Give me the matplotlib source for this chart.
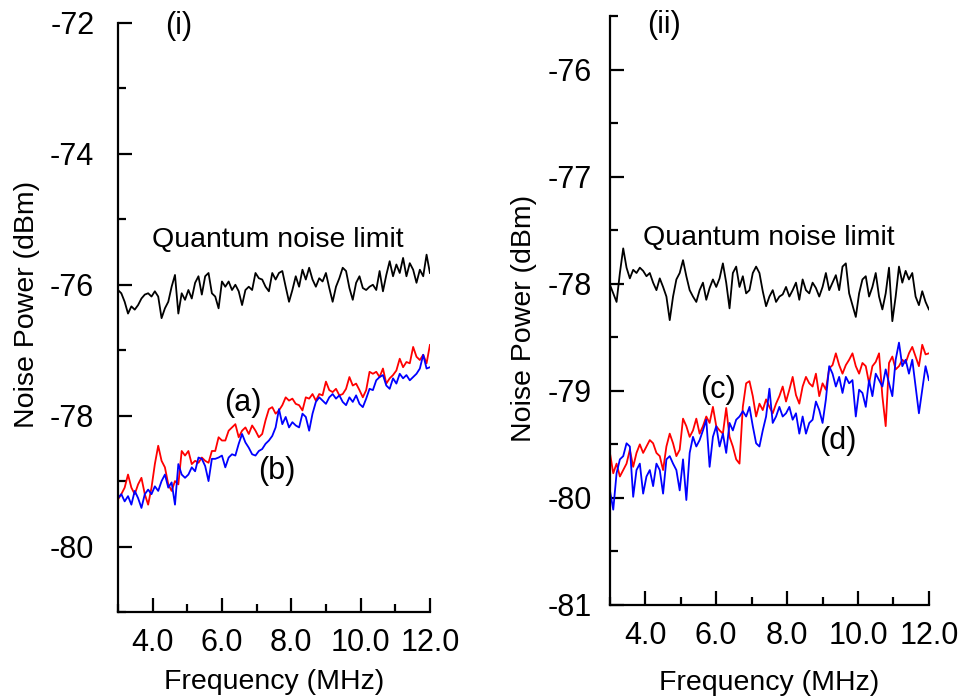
import numpy as np
import matplotlib
matplotlib.use("Agg")
import matplotlib.pyplot as plt
from matplotlib.ticker import MultipleLocator, FormatStrFormatter

plt.rcParams["font.family"] = ["Liberation Sans", "DejaVu Sans"]

# ---- panel (i): noise power traces, 3-12 MHz sweep ----
qnl_i = [-76.08, -76.13, -76.26, -76.44, -76.33, -76.38, -76.31, -76.21, -76.15, -76.13,
         -76.18, -76.10, -76.18, -76.51, -76.36, -76.26, -76.03, -75.85, -76.44, -76.13,
         -76.23, -76.08, -76.21, -75.97, -75.87, -76.15, -75.87, -75.82, -76.13, -76.18,
         -76.36, -75.95, -76.03, -75.95, -76.08, -76.00, -76.10, -76.31, -76.08, -76.03,
         -76.08, -75.82, -75.90, -75.92, -76.03, -76.10, -75.82, -75.92, -75.82, -75.79,
         -76.03, -76.26, -76.08, -75.87, -76.03, -75.77, -75.92, -75.74, -75.92, -76.03,
         -75.90, -75.95, -75.82, -76.05, -76.26, -76.03, -75.90, -75.74, -75.79, -76.05,
         -76.23, -75.97, -75.87, -76.05, -76.08, -76.03, -76.00, -76.08, -75.79, -76.10,
         -75.85, -75.64, -75.87, -75.69, -75.82, -75.59, -75.87, -75.67, -75.77, -75.97,
         -75.77, -75.87, -75.54, -75.82]

trace_a = [-79.28, -79.20, -79.10, -78.90, -79.10, -79.20, -79.05, -78.95, -79.20, -79.36,
           -79.10, -78.74, -78.46, -78.69, -78.79, -79.05, -79.15, -79.00, -79.05, -78.54,
           -78.61, -78.54, -78.74, -78.69, -78.72, -78.64, -78.69, -78.72, -78.54, -78.54,
           -78.33, -78.38, -78.38, -78.23, -78.18, -78.13, -78.33, -78.23, -78.18, -78.28,
           -78.15, -78.23, -78.33, -78.28, -78.07, -77.90, -77.87, -77.97, -77.92, -77.84,
           -77.72, -77.77, -77.74, -77.82, -77.84, -77.92, -77.72, -77.74, -77.67, -77.77,
           -77.67, -77.69, -77.48, -77.61, -77.64, -77.59, -77.69, -77.67, -77.59, -77.41,
           -77.54, -77.51, -77.61, -77.72, -77.61, -77.33, -77.36, -77.33, -77.41, -77.28,
           -77.51, -77.43, -77.38, -77.31, -77.13, -77.26, -77.18, -77.20, -76.95, -77.10,
           -77.15, -77.07, -77.20, -76.92]

trace_b = [-79.26, -79.20, -79.31, -79.23, -79.36, -79.15, -79.26, -79.41, -79.20, -79.13,
           -79.20, -79.08, -79.15, -79.00, -78.90, -79.10, -79.02, -79.36, -78.74, -78.90,
           -78.95, -78.90, -78.79, -78.85, -78.64, -78.66, -78.77, -79.00, -78.66, -78.66,
           -78.64, -78.61, -78.79, -78.64, -78.59, -78.61, -78.43, -78.28, -78.41, -78.49,
           -78.59, -78.61, -78.54, -78.51, -78.43, -78.38, -78.31, -78.18, -77.90, -78.13,
           -78.02, -78.18, -78.10, -78.15, -78.18, -77.97, -78.02, -78.23, -77.97, -77.79,
           -77.72, -77.77, -77.82, -77.72, -77.67, -77.74, -77.69, -77.79, -77.84, -77.72,
           -77.79, -77.69, -77.82, -77.87, -77.74, -77.59, -77.61, -77.46, -77.41, -77.38,
           -77.54, -77.59, -77.43, -77.51, -77.36, -77.43, -77.38, -77.46, -77.41, -77.36,
           -77.28, -77.07, -77.28, -77.26]

# ---- panel (ii) ----
qnl_ii = [-78.01, -78.09, -78.17, -77.90, -77.67, -77.85, -77.95, -77.87, -77.90, -77.85,
          -77.88, -77.93, -77.90, -77.99, -78.06, -77.95, -78.03, -78.12, -78.34, -78.12,
          -77.96, -77.90, -77.78, -77.93, -78.06, -78.12, -78.17, -78.06, -77.99, -78.15,
          -78.04, -77.96, -78.03, -77.95, -77.81, -77.99, -78.23, -77.90, -77.84, -78.03,
          -77.93, -78.09, -78.06, -77.90, -77.84, -77.90, -78.07, -78.21, -78.12, -78.06,
          -78.17, -78.12, -78.10, -78.03, -78.12, -78.06, -77.99, -78.15, -77.96, -78.06,
          -78.09, -77.99, -78.04, -78.12, -78.03, -77.90, -78.06, -77.99, -77.92, -78.06,
          -77.84, -77.81, -78.09, -78.20, -78.31, -78.09, -77.96, -77.93, -78.12, -78.03,
          -77.90, -78.12, -78.24, -78.09, -77.85, -78.35, -78.12, -77.84, -77.99, -77.88,
          -77.96, -77.90, -78.12, -78.20, -78.07, -78.17, -78.24]

trace_c = [-79.58, -79.77, -79.68, -79.80, -79.74, -79.68, -79.55, -79.71, -79.58, -79.50,
           -79.58, -79.52, -79.46, -79.49, -79.58, -79.61, -79.74, -79.52, -79.40, -79.49,
           -79.61, -79.55, -79.26, -79.33, -79.43, -79.37, -79.26, -79.40, -79.33, -79.24,
           -79.30, -79.15, -79.33, -79.37, -79.40, -79.16, -79.43, -79.52, -79.64, -79.68,
           -79.15, -78.93, -78.91, -79.05, -79.24, -79.12, -79.18, -79.08, -79.15, -79.21,
           -79.12, -79.05, -78.96, -79.10, -78.99, -78.87, -79.04, -79.12, -78.96, -78.87,
           -78.93, -78.96, -78.84, -79.05, -78.93, -78.99, -78.79, -78.76, -78.65, -78.76,
           -78.84, -78.76, -78.71, -78.65, -78.77, -78.84, -78.74, -78.77, -78.93, -78.77,
           -78.73, -78.65, -79.05, -79.33, -78.74, -78.68, -78.80, -78.77, -78.71, -78.74,
           -78.65, -78.59, -78.68, -78.77, -78.57, -78.66, -78.65]

trace_d = [-79.93, -80.11, -79.77, -79.64, -79.61, -79.49, -79.52, -79.99, -79.74, -79.68,
           -79.96, -79.80, -79.74, -79.89, -79.68, -79.74, -79.96, -79.64, -79.61, -79.68,
           -79.74, -79.93, -79.64, -80.02, -79.58, -79.43, -79.52, -79.46, -79.37, -79.27,
           -79.71, -79.43, -79.33, -79.52, -79.40, -79.58, -79.30, -79.37, -79.27, -79.24,
           -79.19, -79.24, -79.15, -79.33, -79.49, -79.52, -79.37, -79.24, -78.98, -79.30,
           -79.24, -79.15, -79.24, -79.21, -79.15, -79.27, -79.21, -79.40, -79.24, -79.40,
           -79.30, -79.27, -79.10, -79.18, -79.30, -79.08, -78.77, -78.84, -78.96, -78.87,
           -79.02, -78.87, -78.93, -78.90, -79.24, -78.99, -79.02, -79.15, -78.90, -79.05,
           -78.84, -78.90, -78.96, -78.80, -78.93, -79.05, -78.71, -78.55, -78.77, -78.71,
           -78.84, -78.71, -78.96, -79.21, -78.99, -78.77, -78.90]

f_start, f_stop = 3.0, 12.0


def sweep(vals):
    # frequency axis of the analyser sweep, one point per recorded sample
    return np.linspace(f_start, f_stop, len(vals))


def style_axes(ax, ymajor, yminor, ypad, xpad, xlabelpad):
    ax.spines["top"].set_visible(False)
    ax.spines["right"].set_visible(False)
    for s in ("left", "bottom"):
        ax.spines[s].set_linewidth(1.6)
    ax.set_xlim(f_start, f_stop)
    ax.xaxis.set_major_locator(MultipleLocator(2.0))
    ax.xaxis.set_minor_locator(MultipleLocator(1.0))
    ax.xaxis.set_major_formatter(FormatStrFormatter("%.1f"))
    ax.yaxis.set_major_locator(MultipleLocator(ymajor))
    ax.yaxis.set_minor_locator(MultipleLocator(yminor))
    ax.yaxis.set_major_formatter(FormatStrFormatter("%d"))
    ax.tick_params(which="both", direction="in", width=1.6, labelsize=22)
    ax.tick_params(which="major", length=10)
    ax.tick_params(which="minor", length=6)
    ax.tick_params(axis="y", which="both", pad=ypad)
    ax.tick_params(axis="x", which="both", pad=xpad)
    ax.set_xlabel("Frequency (MHz)", fontsize=20.5, labelpad=xlabelpad)
    ax.set_ylabel("Noise Power (dBm)", fontsize=20.5)


fig = plt.figure(figsize=(9.59, 6.99), dpi=100)

ax1 = fig.add_axes([0.123, 0.1245, 0.3253, 0.8426])
ax1.plot(sweep(qnl_i), qnl_i, color="black", lw=1.3)
ax1.plot(sweep(trace_a), trace_a, color="#ff0000", lw=1.3)
ax1.plot(sweep(trace_b), trace_b, color="#0000ff", lw=1.3)
ax1.set_ylim(-81.0, -72.0)
style_axes(ax1, 2, 1, ypad=17, xpad=11.5, xlabelpad=8)
ax1.yaxis.set_label_coords(-0.25, 0.523)
ax1.text(0.15, 0.995, "(i)", transform=ax1.transAxes, fontsize=22, va="center", clip_on=False)
ax1.text(3.97, -75.31, "Quantum noise limit", fontsize=20.5, va="center")
ax1.text(6.06, -77.80, "(a)", fontsize=22, va="center")
ax1.text(7.04, -78.85, "(b)", fontsize=22, va="center")

ax2 = fig.add_axes([0.636, 0.1345, 0.3326, 0.8426])
ax2.plot(sweep(qnl_ii), qnl_ii, color="black", lw=1.3)
ax2.plot(sweep(trace_c), trace_c, color="#ff0000", lw=1.3)
ax2.plot(sweep(trace_d), trace_d, color="#0000ff", lw=1.3)
ax2.set_ylim(-81.0, -75.5)
style_axes(ax2, 1, 0.5, ypad=13, xpad=11.5, xlabelpad=14)
ax2.yaxis.set_label_coords(-0.229, 0.486)
ax2.text(0.116, 0.985, "(ii)", transform=ax2.transAxes, fontsize=22, va="center", clip_on=False)
ax2.text(3.94, -77.57, "Quantum noise limit", fontsize=20.5, va="center")
ax2.text(5.55, -78.99, "(c)", fontsize=22, va="center")
ax2.text(8.89, -79.47, "(d)", fontsize=22, va="center")

fig.savefig("out.png", dpi=100)
